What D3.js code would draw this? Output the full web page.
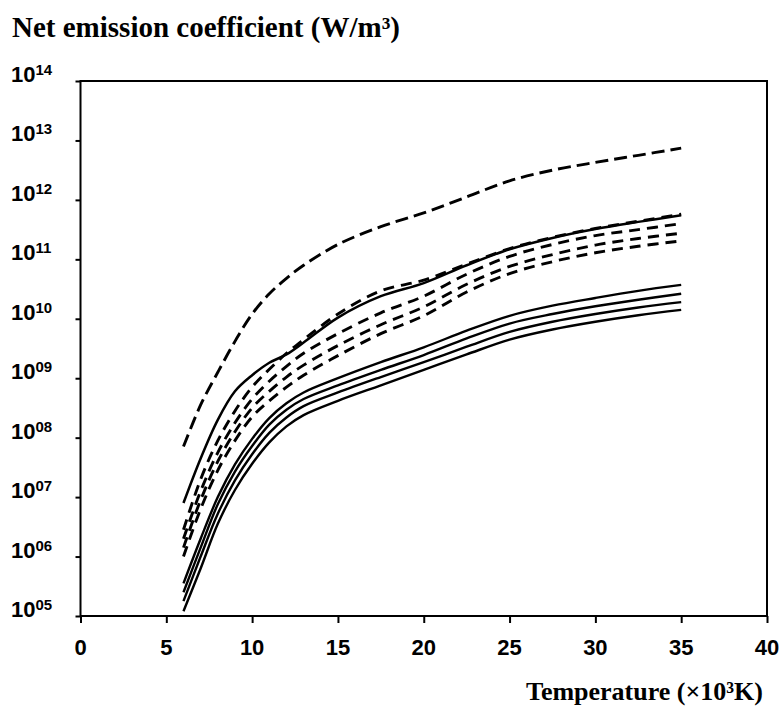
<!DOCTYPE html>
<html lang="en">
<head>
    <meta charset="UTF-8">
    <script src="https://d3js.org/d3.v7.min.js"></script>
    <style>
        body {
            margin: 0;
            background: #fff;
        }

        .tick-label {
            font-family: "Liberation Sans", Arial, sans-serif;
            font-weight: bold;
            fill: #000;
        }

        .title {
            font-family: "Liberation Serif", "Times New Roman", serif;
            font-weight: bold;
            fill: #000;
        }
    </style>
    <title>Net emission coefficient</title>
</head>
<body>
<svg id="chart" width="782" height="711"></svg>
<script>
    // temperature in 10^3 K, values are log10 of the emission coefficient (W/m3)
    var temps = [6, 7, 8, 9, 10, 11, 12, 13, 15, 17.5, 20, 22.5, 25, 27.5, 30, 32.5, 35]

    // long dashed curve at the top
    var dashTop = [7.85, 8.55, 9.1, 9.62, 10.08, 10.42, 10.68, 10.9, 11.25, 11.55, 11.78, 12.05, 12.32, 12.5, 12.63, 12.75, 12.87]

    // upper solid curve
    var solidTop = [6.9, 7.65, 8.3, 8.78, 9.05, 9.26, 9.4, 9.6, 10.02, 10.38, 10.6, 10.9, 11.17, 11.36, 11.51, 11.63, 11.74]

    // middle dashed group
    var dash1 = [6.45, 7.3, 7.95, 8.45, 8.85, 9.15, 9.42, 9.65, 10.08, 10.47, 10.65, 10.92, 11.18, 11.37, 11.52, 11.64, 11.76]
    var dash2 = [6.3, 7.1, 7.75, 8.25, 8.65, 8.95, 9.2, 9.42, 9.75, 10.1, 10.38, 10.75, 11.05, 11.25, 11.4, 11.5, 11.6]
    var dash3 = [6.15, 6.95, 7.6, 8.1, 8.5, 8.78, 9.02, 9.22, 9.55, 9.9, 10.2, 10.58, 10.88, 11.08, 11.24, 11.35, 11.44]
    var dash4 = [6.0, 6.8, 7.45, 7.95, 8.35, 8.62, 8.85, 9.05, 9.38, 9.75, 10.05, 10.45, 10.76, 10.96, 11.11, 11.22, 11.31]

    // lower solid group
    var solid1 = [5.55, 6.3, 7.0, 7.55, 7.98, 8.33, 8.58, 8.76, 9.0, 9.27, 9.52, 9.8, 10.05, 10.22, 10.35, 10.47, 10.57]
    var solid2 = [5.4, 6.15, 6.88, 7.43, 7.86, 8.22, 8.47, 8.65, 8.88, 9.14, 9.39, 9.67, 9.92, 10.08, 10.21, 10.32, 10.42]
    var solid3 = [5.25, 6.0, 6.72, 7.28, 7.72, 8.08, 8.34, 8.53, 8.76, 9.02, 9.27, 9.53, 9.78, 9.95, 10.08, 10.19, 10.28]
    var solid4 = [5.08, 5.8, 6.55, 7.12, 7.56, 7.92, 8.19, 8.38, 8.62, 8.88, 9.14, 9.4, 9.65, 9.82, 9.95, 10.06, 10.15]

    var xTicks = [0, 5, 10, 15, 20, 25, 30, 35, 40]
    var yTickExp = [5, 6, 7, 8, 9, 10, 11, 12, 13, 14]
    var yTickText = ["05", "06", "07", "08", "09", "10", "11", "12", "13", "14"]

    var series = [
        {values: dashTop, dash: "13,6", width: 2.9},
        {values: dash1, dash: "11,7", width: 2.9},
        {values: dash2, dash: "11,7", width: 2.9},
        {values: dash3, dash: "11,7", width: 2.9},
        {values: dash4, dash: "11,7", width: 2.9},
        {values: solidTop, dash: null, width: 2.5},
        {values: solid1, dash: null, width: 2.4},
        {values: solid2, dash: null, width: 2.4},
        {values: solid3, dash: null, width: 2.4},
        {values: solid4, dash: null, width: 2.4}
    ]

    var svg = d3.select("#chart")

    var x = d3.scaleLinear().domain([0, 40]).range([80.5, 767])
    var y = d3.scaleLog().domain([1e5, 1e14]).range([616, 81])

    var line = d3.line()
        .x(function (d) { return x(d.t) })
        .y(function (d) { return y(Math.pow(10, d.v)) })
        .curve(d3.curveCatmullRom.alpha(0.5))

    // curves
    var g = svg.append("g")
    series.forEach(function (s) {
        var pts = temps.map(function (t, i) { return {t: t, v: s.values[i]} })
        g.append("path")
            .datum(pts)
            .attr("d", line)
            .attr("fill", "none")
            .attr("stroke", "#000")
            .attr("stroke-width", s.width)
            .attr("stroke-dasharray", s.dash)
            .attr("stroke-linecap", "butt")
    })

    // frame
    svg.append("rect")
        .attr("x", x(0))
        .attr("y", y(1e14))
        .attr("width", x(40) - x(0))
        .attr("height", y(1e5) - y(1e14))
        .attr("fill", "none")
        .attr("stroke", "#000")
        .attr("stroke-width", 2)

    // x axis
    var xAxis = d3.axisBottom(x).tickValues(xTicks).tickSize(7).tickFormat("")
    var xg = svg.append("g").attr("transform", "translate(0," + y(1e5) + ")").call(xAxis)
    xg.select(".domain").remove()
    xg.selectAll("line").attr("stroke-width", 2)

    svg.append("g").selectAll("text")
        .data(xTicks)
        .enter()
        .append("text")
        .attr("class", "tick-label")
        .attr("x", function (d) { return x(d) })
        .attr("y", 655)
        .attr("text-anchor", "middle")
        .style("font-size", "22px")
        .text(function (d) { return d })

    // y axis
    var yAxis = d3.axisLeft(y).tickValues(yTickExp.map(function (e) { return Math.pow(10, e) }))
        .tickSize(5).tickFormat("")
    var yg = svg.append("g").attr("transform", "translate(" + x(0) + ",0)").call(yAxis)
    yg.select(".domain").remove()
    yg.selectAll("line").attr("stroke-width", 2)

    var yl = svg.append("g").selectAll("text")
        .data(yTickExp)
        .enter()
        .append("text")
        .attr("class", "tick-label")
        .attr("x", 11)
        .attr("y", function (d) { return y(Math.pow(10, d)) + 1 })
        .style("font-size", "22px")
    yl.append("tspan").text("10")
    yl.append("tspan")
        .attr("dy", -7)
        .style("font-size", "15px")
        .text(function (d, i) { return yTickText[i] })

    // titles
    svg.append("text")
        .attr("class", "title")
        .attr("x", 12)
        .attr("y", 37)
        .style("font-size", "29px")
        .text("Net emission coefficient (W/m³)")

    svg.append("text")
        .attr("class", "title")
        .attr("x", 763)
        .attr("y", 700)
        .attr("text-anchor", "end")
        .style("font-size", "26px")
        .text("Temperature (×10³K)")
</script>
</body>
</html>
